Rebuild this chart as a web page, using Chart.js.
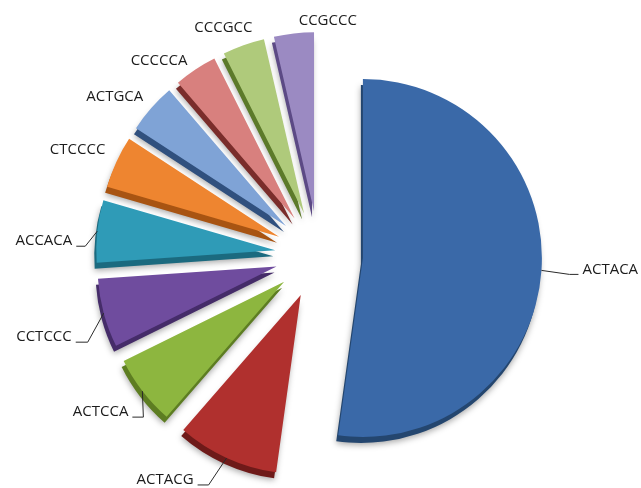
<!DOCTYPE html>
<html>
<head>
<meta charset="utf-8">
<script src="https://cdn.jsdelivr.net/npm/chart.js@4/dist/chart.umd.min.js"></script>
<style>
  html, body { margin: 0; padding: 0; background: #ffffff; }
  #wrap { position: relative; width: 641px; height: 488px; }
</style>
</head>
<body>
<div id="wrap"><canvas id="pie"></canvas></div>
<script>
// Share of each hexamer sequence (percent)
const sequences = ['ACTACA', 'ACTACG', 'ACTCCA', 'CCTCCC', 'ACCACA', 'CTCCCC', 'ACTGCA', 'CCCCCA', 'CCCGCC', 'CCGCCC'];
const shares = [52.2, 9.2, 6.3, 6.2, 5.6, 4.7, 4.5, 3.9, 3.8, 3.6];

// Top face and side colours of the slices
const faceColors = ['#3a69a8', '#b0302e', '#8db63f', '#6f4c9e', '#2f9bb7', '#ee8530', '#7fa3d6', '#d8807e', '#afca7b', '#9b8ac2'];
const sideColors = ['#24466f', '#6e1a19', '#5d7d22', '#452c69', '#1b6a7f', '#a85412', '#30507e', '#7a2d2b', '#5c7a2a', '#5c4a85'];

// Explosion distance and thickness of the pie
const explodePx = 44;
const depth = { x: -2, y: 6 };

// Label placement relative to the outer midpoint of each slice
const labelLayout = [
  { dx: 41,  dy: -1,  align: 'left',  leader: true, knee: 13 },
  { dx: -33, dy: 22,  align: 'right', leader: true, knee: 15 },
  { dx: -14, dy: 21,  align: 'right', leader: true, knee: 15 },
  { dx: -32, dy: 24,  align: 'right', leader: true, knee: 16 },
  { dx: -25, dy: 10,  align: 'right', leader: true, knee: 13 },
  { dx: -11, dy: -12, align: 'right', leader: false },
  { dx: -8,  dy: -11, align: 'right', leader: false },
  { dx: -8,  dy: -9,  align: 'right', leader: false },
  { dx: 9,   dy: -17, align: 'right', leader: false },
  { dx: 63,  dy: -13, align: 'right', leader: false }
];

// Pushes every slice outwards along its bisector
const explodePlugin = {
  id: 'explode',
  afterUpdate(chart) {
    chart.getDatasetMeta(0).data.forEach(arc => {
      const mid = (arc.startAngle + arc.endAngle) / 2;
      arc.x += Math.cos(mid) * explodePx;
      arc.y += Math.sin(mid) * explodePx;
    });
  }
};

// Darker copy of each slice drawn underneath to give the pie its thickness
const sidePlugin = {
  id: 'sides',
  beforeDatasetsDraw(chart) {
    const ctx = chart.ctx;
    chart.getDatasetMeta(0).data.forEach((arc, i) => {
      const saved = arc.options;
      arc.options = Object.assign({}, saved, { backgroundColor: sideColors[i], borderColor: sideColors[i] });
      ctx.save();
      ctx.shadowColor = 'rgba(0,0,0,0.35)';
      ctx.shadowBlur = 6;
      ctx.shadowOffsetY = 2;
      ctx.translate(depth.x, depth.y);
      arc.draw(ctx);
      ctx.restore();
      arc.options = saved;
    });
  }
};

// Category labels with leader lines
const labelPlugin = {
  id: 'sliceLabels',
  afterDatasetsDraw(chart) {
    const ctx = chart.ctx;
    const meta = chart.getDatasetMeta(0);
    ctx.save();
    ctx.font = '15px "Open Sans"';
    ctx.fillStyle = '#1c1c1c';
    ctx.strokeStyle = '#2a2a2a';
    ctx.lineWidth = 1;
    ctx.textBaseline = 'middle';
    meta.data.forEach((arc, i) => {
      const mid = (arc.startAngle + arc.endAngle) / 2;
      const px = arc.x + Math.cos(mid) * arc.outerRadius;
      const py = arc.y + Math.sin(mid) * arc.outerRadius;
      const L = labelLayout[i];
      const tx = px + L.dx;
      const ty = py + L.dy;
      ctx.textAlign = L.align;
      ctx.fillText(chart.data.labels[i], tx, ty);
      if (L.leader) {
        const dir = L.align === 'left' ? -1 : 1;
        const base = ty + 5;
        ctx.beginPath();
        ctx.moveTo(px, py);
        ctx.lineTo(tx + dir * L.knee, base);
        ctx.lineTo(tx + dir * 4, base);
        ctx.stroke();
      }
    });
    ctx.restore();
  }
};

new Chart(document.getElementById('pie'), {
  type: 'pie',
  data: {
    labels: sequences,
    datasets: [{
      data: shares,
      backgroundColor: faceColors,
      borderWidth: 0
    }]
  },
  options: {
    responsive: true,
    maintainAspectRatio: false,
    animation: false,
    events: [],
    radius: 179,
    layout: { padding: { left: 0, right: 3, top: 22, bottom: 0 } },
    plugins: {
      legend: { display: false },
      tooltip: { enabled: false }
    }
  },
  plugins: [explodePlugin, sidePlugin, labelPlugin]
});
</script>
</body>
</html>
